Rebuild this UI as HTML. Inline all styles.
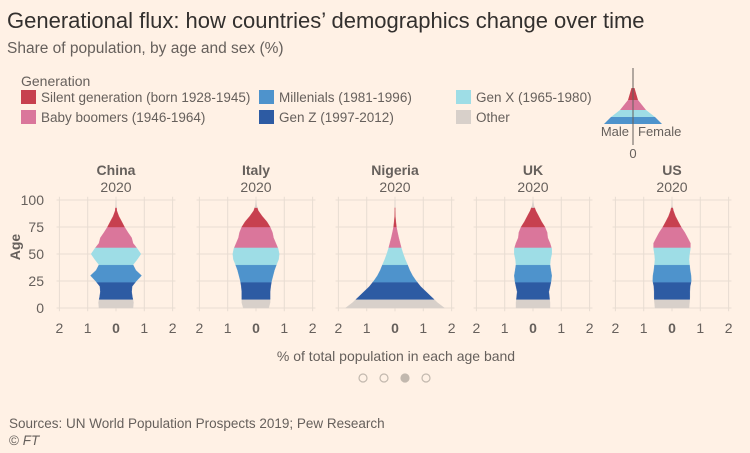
<!DOCTYPE html>
<html><head><meta charset="utf-8"><style>
body{margin:0;background:#fff1e5;}
#c{position:relative;width:750px;height:453px;background:#fff1e5;font-family:"Liberation Sans",sans-serif;overflow:hidden}
</style></head><body>
<div id="c">
<svg id="s" width="750" height="453" xmlns="http://www.w3.org/2000/svg">
<text x="7" y="28" font-size="22" fill="#33302e">Generational flux: how countries’ demographics change over time</text>
<text x="7" y="53" font-size="15.5" fill="#66605c">Share of population, by age and sex (%)</text>
<text x="21" y="86" font-size="14" fill="#66605c">Generation</text>
<g id="legend"></g>
<g id="inset"></g>
<g id="plot"></g>
<text x="396" y="361" font-size="14" fill="#66605c" text-anchor="middle">% of total population in each age band</text>
<g id="dots"></g>
<text x="9" y="428" font-size="13.5" fill="#66605c">Sources: UN World Population Prospects 2019; Pew Research</text>
<text x="9" y="445" font-size="13.5" fill="#66605c">© <tspan font-style="italic">FT</tspan></text>
</svg>
</div>
<script>
const countries=["China","Italy","Nigeria","UK","US"];
const ages=[0,5,10,15,20,25,30,35,40,45,50,55,60,65,70,75,80,85,90,95,100];
const chinaW=[0.6,0.62,0.58,0.55,0.57,0.72,0.9,0.7,0.6,0.75,0.88,0.75,0.6,0.55,0.42,0.3,0.2,0.1,0.03,0.01,0];
const italyW=[0.45,0.5,0.5,0.5,0.52,0.55,0.6,0.65,0.72,0.8,0.82,0.78,0.7,0.62,0.58,0.5,0.38,0.22,0.08,0.02,0];
const nigeriaW=[1.75,1.5,1.3,1.1,0.9,0.75,0.62,0.52,0.44,0.36,0.29,0.23,0.18,0.13,0.09,0.05,0.03,0.01,0.005,0,0];
const ukW=[0.6,0.6,0.58,0.56,0.6,0.64,0.66,0.63,0.6,0.62,0.66,0.66,0.6,0.52,0.5,0.42,0.3,0.2,0.1,0.03,0];
const usW=[0.6,0.62,0.63,0.63,0.64,0.68,0.67,0.64,0.62,0.6,0.62,0.65,0.65,0.55,0.45,0.32,0.22,0.12,0.05,0.01,0];
const widths=[chinaW,italyW,nigeriaW,ukW,usW];
const genNames=["Other","Gen Z (1997-2012)","Millenials (1981-1996)","Gen X (1965-1980)","Baby boomers (1946-1964)","Silent generation (born 1928-1945)","Other"];
const genBounds=[0,8,24,40,56,75,93,100];
const genColors=["#d8d0ca","#2d5ba3","#4e93cc","#9edde6","#da769b","#c7404f","#d8d0ca"];
const yTicks=[0,25,50,75,100];
const xTicks=[-2,-1,0,1,2];
const NS="http://www.w3.org/2000/svg";
const centers=[116,256,395,533,672];
const pxPerPct=28.3;
function yS(a){return 308-a*1.08;}
function wAt(arr,a){if(a>=100)return arr[20];const i=Math.floor(a/5),t=(a-i*5)/5;return arr[i]+(arr[i+1]-arr[i])*t;}
const plot=document.getElementById('plot');
function mk(tag,attrs,parent){const e=document.createElementNS(NS,tag);for(const k in attrs)e.setAttribute(k,attrs[k]);parent.appendChild(e);return e;}
// y ticks
yTicks.forEach(v=>{const t=mk('text',{x:44,y:yS(v)+5,'font-size':14,fill:'#66605c','text-anchor':'end'},plot);t.textContent=v;

});
const at=mk('text',{x:20,y:247,'font-size':14,'font-weight':'bold',fill:'#66605c','text-anchor':'middle',transform:'rotate(-90 20 247)'},plot);at.textContent='Age';


countries.forEach((c,ci)=>{
 const cx=centers[ci];const x=p=>cx+p*pxPerPct;
 const g=mk('g',{},plot);
 
 
 yTicks.forEach(v=>{const l=mk('line',{x1:x(-2.1),x2:x(2.1),y1:yS(v),y2:yS(v),stroke:'#e8ddd2','stroke-width':1},g);
 
 });
 xTicks.forEach(v=>{const l=mk('line',{x1:x(v),x2:x(v),y1:yS(103),y2:yS(-3),stroke:'#e8ddd2','stroke-width':1},g);
 
 
 const t=mk('text',{x:x(v),y:333,'font-size':14,fill:'#66605c','text-anchor':'middle','font-weight':v===0?'bold':'normal'},g);t.textContent=Math.abs(v);
 
 });
 const t1=mk('text',{x:cx,y:175,'font-size':14,'font-weight':'bold',fill:'#66605c','text-anchor':'middle'},g);t1.textContent=c;
 
 
 const t2=mk('text',{x:cx,y:192,'font-size':14,fill:'#66605c','text-anchor':'middle'},g);t2.textContent='2020';
 
 
 const arr=widths[ci];
 for(let b=0;b<genBounds.length-1;b++){
  const a0=genBounds[b],a1=genBounds[b+1];const pts=[];const as=[a0];
  for(let a=Math.ceil(a0/5)*5;a<a1;a+=5)if(a>a0)as.push(a);as.push(a1);
  as.forEach(a=>pts.push([x(wAt(arr,a)),yS(a)]));
  as.slice().reverse().forEach(a=>pts.push([x(-wAt(arr,a)),yS(a)]));
  const p=mk('polygon',{points:pts.map(q=>q[0].toFixed(1)+','+q[1].toFixed(1)).join(' '),fill:genColors[b],stroke:genColors[b],'stroke-width':0.4},g);
  
  
 }
});
// legend
const leg=document.getElementById('legend');
const legItems=[[5,21,102],[4,21,122],[2,259,102],[1,259,122],[3,456,102],[0,456,122]];
legItems.forEach(([gi,lx,ly])=>{
 const r=mk('rect',{x:lx,y:ly-12,width:15,height:14,fill:genColors[gi]},leg);
 
 
 const t=mk('text',{x:lx+20,y:ly,'font-size':13.5,fill:'#66605c'},leg);t.textContent=genNames[gi];
 
 
});
// inset
const ins=document.getElementById('inset');
const icx=633;
const insetBands=[[3,112,120,46,30],[4,103,112,30,14],[5,94,103,14,5]];
const ib=[[2,118,124,56,46],[3,112,118,46,30]];
[[2,117,124,58,44],[3,110,117,44,26],[4,100,110,26,10],[5,88,100,10,3]].forEach(([gi,y0,y1,w0,w1])=>{
 const p=mk('polygon',{points:`${icx-w0/2},${y1} ${icx+w0/2},${y1} ${icx+w1/2},${y0} ${icx-w1/2},${y0}`,fill:genColors[gi]},ins);
 
 
});
const il=mk('line',{x1:icx,x2:icx,y1:68,y2:145,stroke:'#66605c','stroke-width':1},ins);


[['Male',icx-4,'end'],['Female',icx+5,'start']].forEach(([s,xx,an])=>{const t=mk('text',{x:xx,y:136,'font-size':13,fill:'#66605c','text-anchor':an},ins);t.textContent=s;

});
const iz=mk('text',{x:icx,y:158,'font-size':13,fill:'#66605c','text-anchor':'middle'},ins);iz.textContent='0';


// dots
const dg=document.getElementById('dots');
[363,384,405,426].forEach((dx,i)=>{const d=mk('circle',{cx:dx,cy:378,r:4,fill:i===2?'#c2b8ae':'none',stroke:'#c2b8ae','stroke-width':1.2},dg);

});
</script>
</body></html>
